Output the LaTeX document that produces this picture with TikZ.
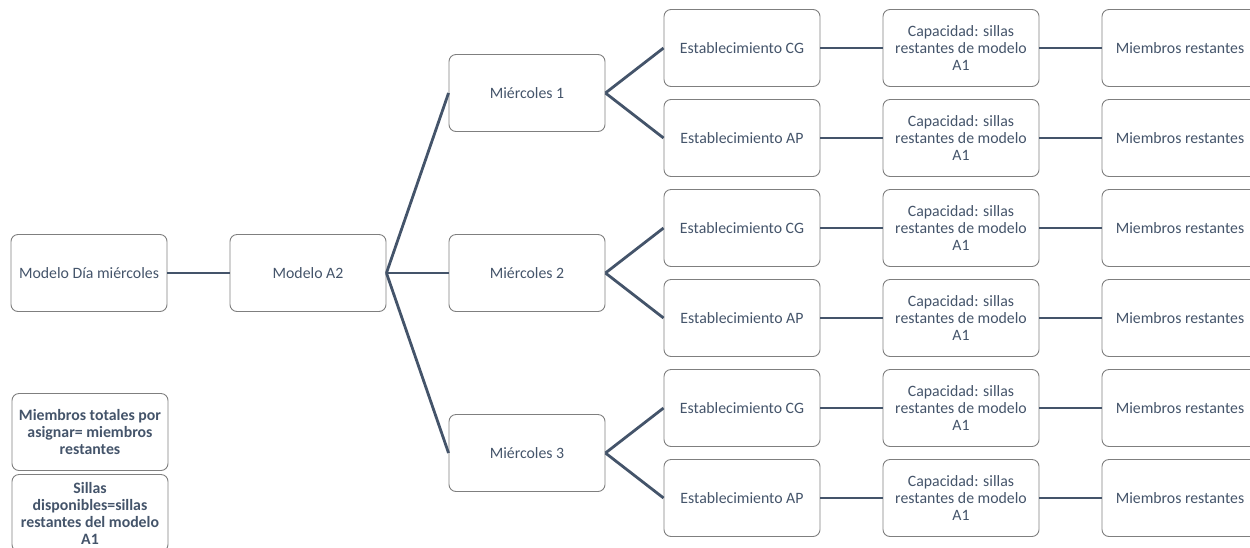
\documentclass[tikz,border=0pt]{standalone}
\usepackage{fontspec}
\setmainfont{Carlito}
\usetikzlibrary{positioning}
\definecolor{slate}{HTML}{44546A}
\definecolor{edgegray}{HTML}{7F7F7F}

\begin{document}
\begin{tikzpicture}[x=1pt,y=-1pt,node distance=90pt and 219pt,on grid,
    box/.style={draw=edgegray,line width=0.9pt,rounded corners=7pt,
        minimum width=156pt,minimum height=77pt,inner sep=0pt,align=center,
        text=slate,font=\fontsize{15.8}{17}\selectfont},
    note/.style={box,font=\fontsize{15.8}{17}\selectfont\bfseries},
    link/.style={draw=slate,line width=2.8pt}]
    \clip (0,0) rectangle (1250,547);
    \node[box] (dia) at (89,273) {Modelo Día miércoles};
    \node[box] (a2) [right=of dia] {Modelo A2};
    \node[box] (m2) [right=of a2] {Miércoles 2};
    \node[box] (m1) [above=180pt of m2] {Miércoles 1};
    \node[box] (m3) [below=180pt of m2] {Miércoles 3};
    \node[box] (cg1) [above right=45pt and 215pt of m1] {Establecimiento CG};
    \node[box] (ap1) [below right=45pt and 215pt of m1] {Establecimiento AP};
    \node[box] (cg2) [above right=45pt and 215pt of m2] {Establecimiento CG};
    \node[box] (ap2) [below right=45pt and 215pt of m2] {Establecimiento AP};
    \node[box] (cg3) [above right=45pt and 215pt of m3] {Establecimiento CG};
    \node[box] (ap3) [below right=45pt and 215pt of m3] {Establecimiento AP};
    \node[box] (cap1) [right=of cg1] {Capacidad: sillas\\restantes de modelo\\A1};
    \node[box] (cap2) [right=of ap1] {Capacidad: sillas\\restantes de modelo\\A1};
    \node[box] (cap3) [right=of cg2] {Capacidad: sillas\\restantes de modelo\\A1};
    \node[box] (cap4) [right=of ap2] {Capacidad: sillas\\restantes de modelo\\A1};
    \node[box] (cap5) [right=of cg3] {Capacidad: sillas\\restantes de modelo\\A1};
    \node[box] (cap6) [right=of ap3] {Capacidad: sillas\\restantes de modelo\\A1};
    \node[box] (rest1) [right=of cap1] {Miembros restantes};
    \node[box] (rest2) [right=of cap2] {Miembros restantes};
    \node[box] (rest3) [right=of cap3] {Miembros restantes};
    \node[box] (rest4) [right=of cap4] {Miembros restantes};
    \node[box] (rest5) [right=of cap5] {Miembros restantes};
    \node[box] (rest6) [right=of cap6] {Miembros restantes};
    % leyenda
    \node[note] (total) at (90,432) {Miembros totales por\\asignar= miembros\\restantes};
    \node[note] (sillas) at (90,513) {Sillas\\disponibles=sillas\\restantes del modelo\\A1};
    \path[link]
        (dia) edge (a2)
        (a2.east) edge (m1.west)
                  edge (m2.west)
                  edge (m3.west)
        (m1.east) edge (cg1.west)
                  edge (ap1.west)
        (m2.east) edge (cg2.west)
                  edge (ap2.west)
        (m3.east) edge (cg3.west)
                  edge (ap3.west)
        (cg1) edge (cap1) (cap1) edge (rest1)
        (ap1) edge (cap2) (cap2) edge (rest2)
        (cg2) edge (cap3) (cap3) edge (rest3)
        (ap2) edge (cap4) (cap4) edge (rest4)
        (cg3) edge (cap5) (cap5) edge (rest5)
        (ap3) edge (cap6) (cap6) edge (rest6);
\end{tikzpicture}
\end{document}
